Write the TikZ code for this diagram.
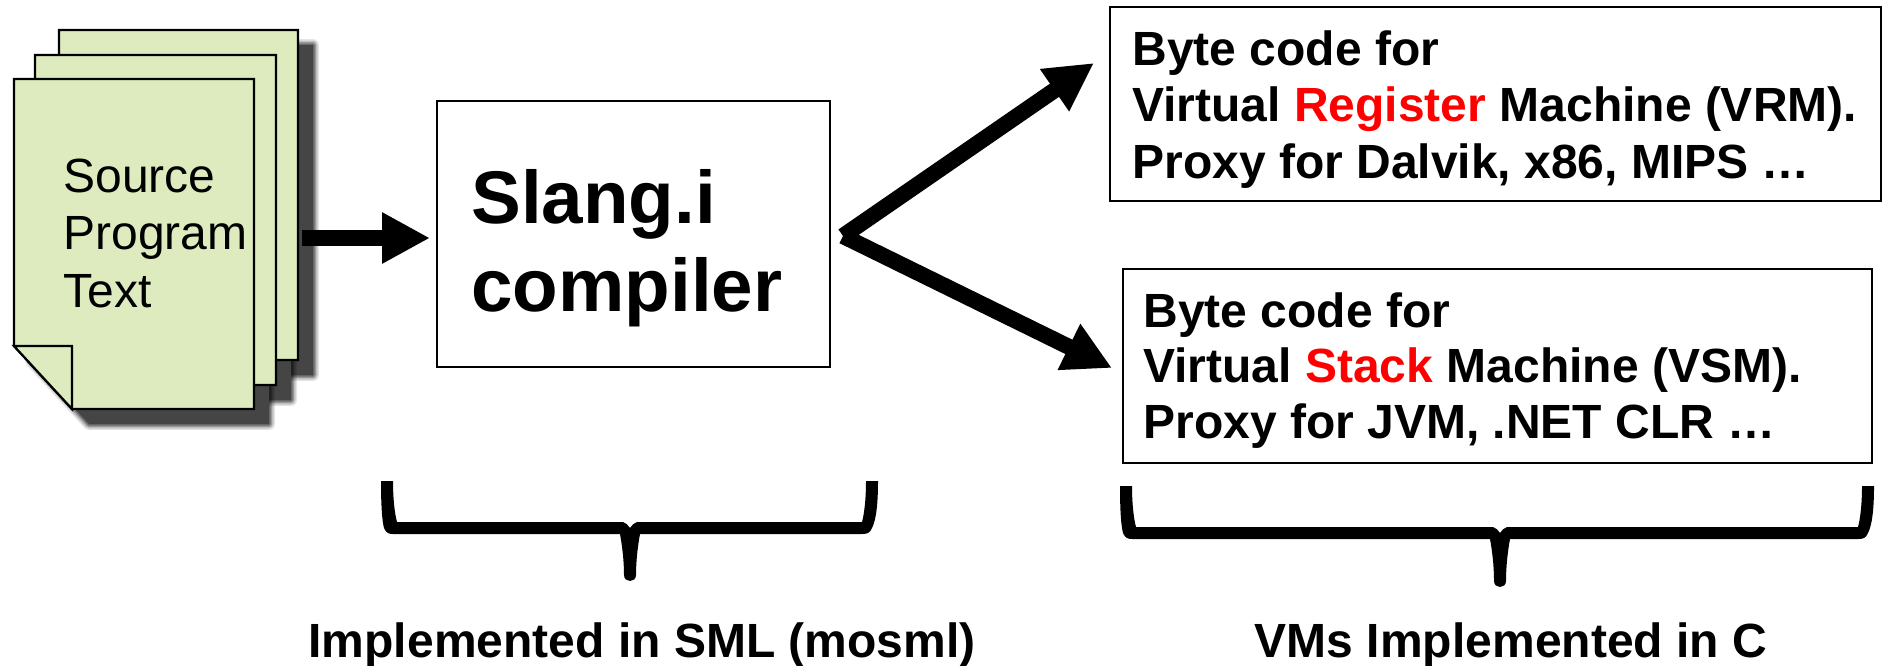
\documentclass[tikz,border=0pt]{standalone}
\usepackage{fontspec}
\setmainfont{Liberation Sans}
\usetikzlibrary{arrows.meta}
\definecolor{pagegreen}{HTML}{DDEBBF}
\definecolor{reg}{HTML}{FF0000}
\tikzset{
  x=0.5pt,y=-0.5pt,
  page/.style={draw=black,line width=1.1pt,fill=pagegreen},
  box/.style={draw=black,line width=0.9pt,fill=white},
  bigarrow/.style={line width=8pt,-{Triangle[length=24pt,width=24pt]},black},
  label/.style={inner sep=0pt,anchor=base west,font=\bfseries\fontsize{24pt}{28pt}\selectfont},
  btm/.style={inner sep=0pt,anchor=base,font=\bfseries\fontsize{24pt}{28pt}\selectfont},
  bracefill/.style={fill=black,draw=none},
  lines/.style={inner sep=0pt,anchor=base west},
  srctext/.style={lines,font=\fontsize{24pt}{28pt}\selectfont},
  cmptext/.style={lines,font=\bfseries\fontsize{37.3pt}{44pt}\selectfont},
}
\newcommand{\softshadow}[1]{%
  \foreach \w/\o in {6/.10,4.5/.15,3/.22,1.5/.3}{\draw[line width=\w pt,black,opacity=\o,line join=round] #1;}
  \fill[black!73] #1;}
\begin{document}
\begin{tikzpicture}
\useasboundingbox (0,0) rectangle (1883,665);
% shadows
\softshadow{(76,45) -- (313,45) -- (313,375) -- (134,375) -- (76,312) -- cycle}
\softshadow{(52,70) -- (291,70) -- (291,400) -- (110,400) -- (52,337) -- cycle}
\softshadow{(31,94) -- (269,94) -- (269,424) -- (89,424) -- (31,361) -- cycle}
% pages
\draw[page] (59,30) -- (298,30) -- (298,360) -- (117,360) -- (59,297) -- cycle;
\draw[page] (35,55) -- (276,55) -- (276,385) -- (93,385) -- (35,322) -- cycle;
\draw[page] (14,79) -- (254,79) -- (254,409) -- (72,409) -- (14,346) -- cycle;
\draw[page] (14,346) -- (72,346) -- (72,409) -- cycle;
\node[srctext] (src1) at (63,192) {Source};
\node[srctext] (src2) at (63,249) {Program};
\node[srctext] (src3) at (63,307) {Text};
% compiler
\node[box,minimum width=196.5pt,minimum height=133pt,inner sep=0pt] (cmp) at (633.5,234) {};
\node[cmptext] (cmp1) at (471,223) {Slang.i};
\node[cmptext] (cmp2) at (471,311) {compiler};
% VM boxes
\node[box,minimum width=385.5pt,minimum height=97pt,inner sep=0pt] (vrm) at (1495.5,104) {};
\node[box,minimum width=374.5pt,minimum height=97pt,inner sep=0pt] (vsm) at (1497.5,366) {};
\node[label] (a1) at (1132,65) {Byte code for};
\node[label] (a2) at (1132,121) {Virtual \textcolor{reg}{Register} Machine (VRM).};
\node[label] (a3) at (1132,178) {Proxy for Dalvik, x86, MIPS …};
\node[label] (b1) at (1143,327) {Byte code for};
\node[label] (b2) at (1143,382) {Virtual \textcolor{reg}{Stack} Machine (VSM).};
\node[label] (b3) at (1143,438) {Proxy for JVM, .NET CLR …};
% arrows
\coordinate (srcout) at (302,238);
\coordinate (cmpin) at (430,238);
\coordinate (fork) at (843,236);
\coordinate (vrmin) at (1094,63);
\coordinate (vsmin) at (1112,368);
\draw[bigarrow] (srcout) -- (cmpin);
\draw[bigarrow] (fork) -- (vrmin);
\draw[bigarrow] (fork) -- (vsmin);
% braces
\fill[bracefill] (381,481) -- (393,481) .. controls (393,500) and (395,515) .. (397,522) -- (623,522) .. controls (626,523) and (628,525) .. (630,528) .. controls (632,525) and (634,523) .. (637,522) -- (862,522) .. controls (864,515) and (866,500) .. (866,481) -- (878,481) .. controls (878,505) and (876,520) .. (872,528) .. controls (870,533) and (867,534) .. (862,534) -- (640,534) .. controls (638,545) and (636,560) .. (636,575) .. controls (636,583) and (624,583) .. (624,575) .. controls (624,560) and (622,545) .. (620,534) -- (393,534) .. controls (389,534) and (386,533) .. (384,528) .. controls (382,520) and (381,505) .. (381,481) -- cycle;
\fill[bracefill] (1120,486) -- (1132,486) .. controls (1132,505) and (1134,520) .. (1136,527) -- (1493,527) .. controls (1496,528) and (1498,530) .. (1500,533) .. controls (1502,530) and (1504,528) .. (1507,527) -- (1858,527) .. controls (1860,520) and (1862,505) .. (1862,486) -- (1874,486) .. controls (1874,510) and (1872,525) .. (1868,533) .. controls (1866,538) and (1863,539) .. (1858,539) -- (1510,539) .. controls (1508,550) and (1506,565) .. (1506,581) .. controls (1506,589) and (1494,589) .. (1494,581) .. controls (1494,565) and (1492,550) .. (1490,539) -- (1132,539) .. controls (1128,539) and (1125,538) .. (1123,533) .. controls (1121,525) and (1120,510) .. (1120,486) -- cycle;
\node[btm] (t1) at (642,657) {Implemented in SML (mosml)};
\node[btm] (t2) at (1511,657) {VMs Implemented in C};
\end{tikzpicture}
\end{document}
